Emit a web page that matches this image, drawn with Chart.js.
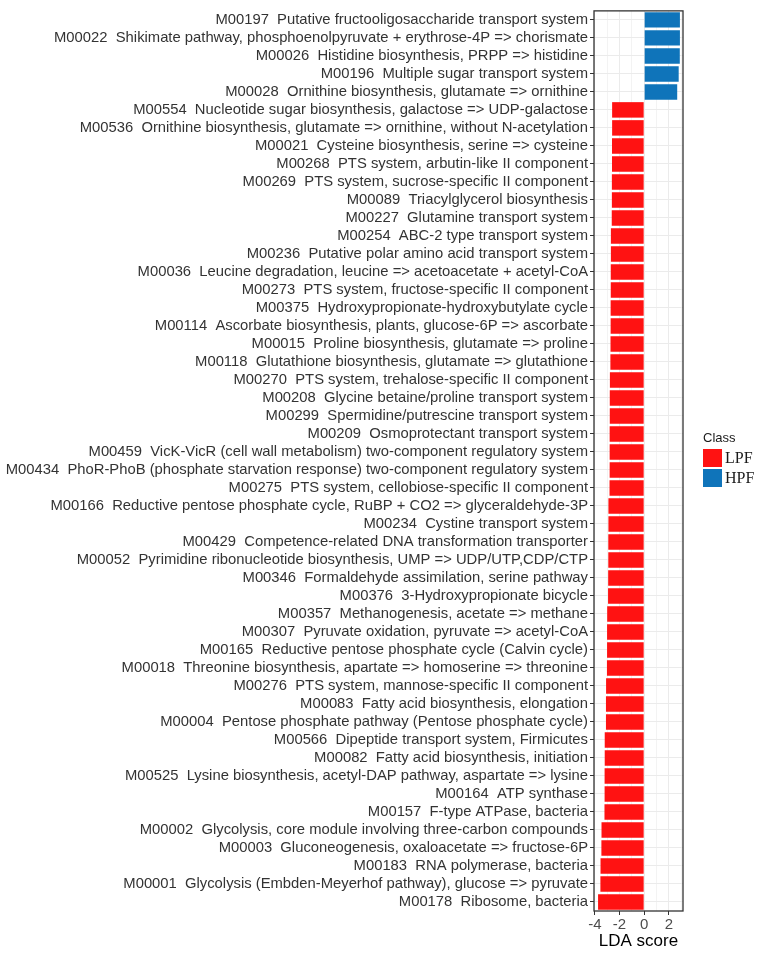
<!DOCTYPE html>
<html><head><meta charset="utf-8">
<script src="https://cdn.jsdelivr.net/npm/chart.js@4/dist/chart.umd.min.js"></script>
<style>html,body{margin:0;padding:0;background:#fff}</style>
</head><body>
<canvas id="c" width="769" height="956"></canvas>
<script>
const modules = ["M00197","M00022","M00026","M00196","M00028","M00554","M00536","M00021","M00268","M00269","M00089","M00227","M00254","M00236","M00036","M00273","M00375","M00114","M00015","M00118","M00270","M00208","M00299","M00209","M00459","M00434","M00275","M00166","M00234","M00429","M00052","M00346","M00376","M00357","M00307","M00165","M00018","M00276","M00083","M00004","M00566","M00082","M00525","M00164","M00157","M00002","M00003","M00183","M00001","M00178"];
const descriptions = [
"Putative fructooligosaccharide transport system",
"Shikimate pathway, phosphoenolpyruvate + erythrose-4P => chorismate",
"Histidine biosynthesis, PRPP => histidine",
"Multiple sugar transport system",
"Ornithine biosynthesis, glutamate => ornithine",
"Nucleotide sugar biosynthesis, galactose => UDP-galactose",
"Ornithine biosynthesis, glutamate => ornithine, without N-acetylation",
"Cysteine biosynthesis, serine => cysteine",
"PTS system, arbutin-like II component",
"PTS system, sucrose-specific II component",
"Triacylglycerol biosynthesis",
"Glutamine transport system",
"ABC-2 type transport system",
"Putative polar amino acid transport system",
"Leucine degradation, leucine => acetoacetate + acetyl-CoA",
"PTS system, fructose-specific II component",
"Hydroxypropionate-hydroxybutylate cycle",
"Ascorbate biosynthesis, plants, glucose-6P => ascorbate",
"Proline biosynthesis, glutamate => proline",
"Glutathione biosynthesis, glutamate => glutathione",
"PTS system, trehalose-specific II component",
"Glycine betaine/proline transport system",
"Spermidine/putrescine transport system",
"Osmoprotectant transport system",
"VicK-VicR (cell wall metabolism) two-component regulatory system",
"PhoR-PhoB (phosphate starvation response) two-component regulatory system",
"PTS system, cellobiose-specific II component",
"Reductive pentose phosphate cycle, RuBP + CO2 => glyceraldehyde-3P",
"Cystine transport system",
"Competence-related DNA transformation transporter",
"Pyrimidine ribonucleotide biosynthesis, UMP => UDP/UTP,CDP/CTP",
"Formaldehyde assimilation, serine pathway",
"3-Hydroxypropionate bicycle",
"Methanogenesis, acetate => methane",
"Pyruvate oxidation, pyruvate => acetyl-CoA",
"Reductive pentose phosphate cycle (Calvin cycle)",
"Threonine biosynthesis, apartate => homoserine => threonine",
"PTS system, mannose-specific II component",
"Fatty acid biosynthesis, elongation",
"Pentose phosphate pathway (Pentose phosphate cycle)",
"Dipeptide transport system, Firmicutes",
"Fatty acid biosynthesis, initiation",
"Lysine biosynthesis, acetyl-DAP pathway, aspartate => lysine",
"ATP synthase",
"F-type ATPase, bacteria",
"Glycolysis, core module involving three-carbon compounds",
"Gluconeogenesis, oxaloacetate => fructose-6P",
"RNA polymerase, bacteria",
"Glycolysis (Embden-Meyerhof pathway), glucose => pyruvate",
"Ribosome, bacteria"];
const hpfScores = [2.90, 2.90, 2.89, 2.80, 2.68];
const lpfScores = [-2.60,-2.60,-2.61,-2.61,-2.62,-2.62,-2.63,-2.70,-2.70,-2.71,-2.71,-2.72,-2.72,-2.73,-2.74,-2.78,-2.79,-2.79,-2.80,-2.80,-2.80,-2.81,-2.90,-2.90,-2.91,-2.91,-2.92,-2.93,-3.00,-3.01,-3.01,-3.02,-3.09,-3.10,-3.10,-3.20,-3.20,-3.21,-3.21,-3.22,-3.46,-3.47,-3.54,-3.55,-3.74];
const xTickValues = [-4,-3,-2,-1,0,1,2,3];
const xTickLabels = {"-4":"-4","-2":"-2","0":"0","2":"2"};
const classNames = ["LPF","HPF"];
const classColors = ["#ff1212","#0f74ba"];

const labels = modules.map((m,i)=> m + "  " + descriptions[i]);
const nH = hpfScores.length;
const hpfData = labels.map((_,i)=> i < nH ? hpfScores[i] : null);
const lpfData = labels.map((_,i)=> i >= nH ? lpfScores[i-nH] : null);

const panelBorder = {
  id:'panelBorder',
  afterDatasetsDraw(chart){
    const {ctx, chartArea:a} = chart;
    ctx.save(); ctx.strokeStyle='#333333'; ctx.lineWidth=1.3;
    ctx.strokeRect(a.left, a.top, a.right-a.left, a.bottom-a.top);
    ctx.restore();
  }
};
const classLegend = {
  id:'classLegend',
  afterDraw(chart){
    const ctx = chart.ctx;
    const x0 = chart.chartArea.right + 20;
    ctx.save();
    ctx.textBaseline='middle'; ctx.textAlign='left';
    ctx.fillStyle='#1a1a1a';
    ctx.font='13px "Liberation Sans Narrow", "Liberation Sans", Arial, sans-serif';
    ctx.fillText('Class', x0, 438);
    chart.data.datasets.forEach((ds,i)=>{
      const y = 449 + i*20;
      ctx.fillStyle = ds.backgroundColor;
      ctx.fillRect(x0, y, 19, 18);
      ctx.fillStyle='#1a1a1a';
      ctx.font='16px "Liberation Serif", "Times New Roman", serif';
      ctx.fillText(ds.label, x0+22, y+9.5);
    });
    ctx.restore();
  }
};

new Chart(document.getElementById('c'), {
  type:'bar',
  data:{
    labels: labels,
    datasets:[
      {label:classNames[0], data:lpfData, backgroundColor:classColors[0], borderWidth:0},
      {label:classNames[1], data:hpfData, backgroundColor:classColors[1], borderWidth:0}
    ]
  },
  options:{
    indexAxis:'y', responsive:false, animation:false,
    layout:{padding:{top:10,right:86,left:0,bottom:0}},
    datasets:{bar:{categoryPercentage:1, barPercentage:0.86, grouped:false}},
    scales:{
      x:{
        type:'linear', min:-4.07, max:3.15,
        afterBuildTicks: s => { s.ticks = xTickValues.map(v=>({value:v})); },
        afterFit: s => { s.height = 45; },
        border:{display:false},
        grid:{
          color:'#ebebeb',
          lineWidth: c => (c.tick && xTickLabels[String(c.tick.value)] !== undefined) ? 1 : 0.6,
          tickColor: c => (c.tick && xTickLabels[String(c.tick.value)] !== undefined) ? '#333333' : 'rgba(0,0,0,0)',
          tickLength:4
        },
        ticks:{
          autoSkip:false, maxRotation:0, padding:1, color:'#4d4d4d',
          font:{size:15, family:'"Liberation Sans", Arial, sans-serif'},
          callback: v => xTickLabels[String(v)] !== undefined ? xTickLabels[String(v)] : ''
        },
        title:{display:true, text:'LDA score', color:'#000', font:{size:17, family:'"Liberation Sans", Arial, sans-serif'}, padding:{top:0,bottom:4}}
      },
      y:{
        afterFit: s => { s.width = 594; },
        border:{display:false},
        grid:{offset:false, color:'#ebebeb', lineWidth:1, tickColor:'#333333', tickLength:4},
        ticks:{autoSkip:false, padding:2, color:'#333333', font:{size:14.8, family:'"Liberation Sans", Arial, sans-serif'}}
      }
    },
    plugins:{legend:{display:false}, tooltip:{enabled:false}}
  },
  plugins:[panelBorder, classLegend]
});
</script>
</body></html>
